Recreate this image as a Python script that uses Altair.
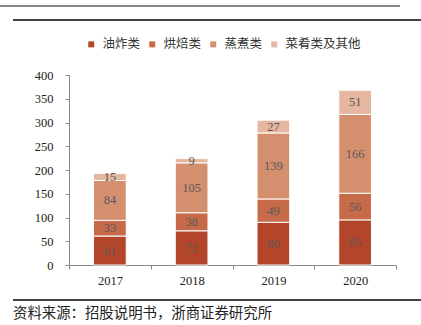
import altair as alt
import pandas as pd

years = ["2017", "2018", "2019", "2020"]
categories = ["油炸类", "烘焙类", "蒸煮类", "菜肴类及其他"]
fried = [61, 72, 90, 95]
baked = [33, 38, 49, 56]
steamed = [84, 105, 139, 166]
dishes = [15, 9, 27, 51]
y_ticks = [0, 50, 100, 150, 200, 250, 300, 350, 400]
colors = ["#B3452A", "#C66A4A", "#D48F6F", "#E6B6A0"]
source_text = "资料来源：招股说明书，浙商证券研究所"

series = [fried, baked, steamed, dishes]
rows = []
for ci, (cat, vals) in enumerate(zip(categories, series)):
    for y, v in zip(years, vals):
        rows.append({"year": y, "cat": cat, "value": v, "order": ci})
df = pd.DataFrame(rows)

W, H = 327, 190
serif = "Liberation Serif"
cjk = "Noto Sans CJK SC"

xaxis = alt.Axis(labelAngle=0, labelFont=serif, labelFontSize=12.5,
                 labelColor="#222", domainColor="#888", tickColor="#888",
                 tickSize=4, tickBand="extent", labelPadding=5, grid=False)
yaxis = alt.Axis(values=y_ticks, labelFont=serif, labelFontSize=12.5,
                 labelColor="#222", domainColor="#888", tickColor="#888",
                 tickSize=4, labelPadding=12, grid=False, labelOverlap=False)
yscale = alt.Scale(domain=[0, 400], nice=False)

base = alt.Chart(df)

bars = base.mark_bar(width={"band": 0.4}, stroke="white", strokeWidth=1).encode(
    x=alt.X("year:N", title=None, scale=alt.Scale(paddingInner=0, paddingOuter=0),
            axis=xaxis),
    y=alt.Y("value:Q", title=None, stack="zero", scale=yscale, axis=yaxis),
    color=alt.Color("cat:N", sort=categories,
                    scale=alt.Scale(domain=categories, range=colors),
                    legend=alt.Legend(title=None, orient="none", direction="horizontal",
                                      legendX=16, legendY=-37,
                                      symbolType="square", symbolSize=36,
                                      symbolStrokeWidth=0, labelFont=cjk,
                                      labelFontSize=12.5, labelColor="#333",
                                      columnPadding=5, labelOffset=5)),
    order=alt.Order("order:Q"),
)

labels = base.transform_stack(
    stack="value", groupby=["year"], sort=[alt.SortField("order")], as_=["v0", "v1"]
).transform_calculate(
    mid="(datum.v0 + datum.v1) / 2"
).mark_text(font=serif, fontSize=12.5, color="#595959", baseline="middle").encode(
    x=alt.X("year:N", title=None, axis=xaxis),
    y=alt.Y("mid:Q", title=None, scale=yscale, axis=yaxis),
    text=alt.Text("value:Q"),
)

top_line = alt.Chart(alt.Data(values=[{"k": "top"}])).mark_rule(
    color="#111", strokeWidth=1).encode(
    x=alt.value(-69), x2=alt.value(331), y=alt.value(-69))
head_line = alt.Chart(alt.Data(values=[{"k": "head"}])).mark_rule(
    color="#444", strokeWidth=2).encode(
    x=alt.value(-56), x2=alt.value(352), y=alt.value(-55))
foot_line = alt.Chart(alt.Data(values=[{"k": "foot"}])).mark_rule(
    color="#444", strokeWidth=2).encode(
    x=alt.value(-56), x2=alt.value(352), y=alt.value(225))
foot_text = alt.Chart(alt.Data(values=[{"k": "src"}])).mark_text(
    font=cjk, fontSize=14.4, color="#222", align="left", baseline="middle").encode(
    x=alt.value(-56), y=alt.value(239), text=alt.value(source_text))

chart = alt.layer(bars, labels, top_line, head_line, foot_line, foot_text).properties(
    width=W, height=H,
    padding={"left": 69, "top": 75, "right": 25, "bottom": 60},
    autosize=alt.AutoSizeParams(type="none"),
    background="white",
).configure_view(stroke=None)

chart.save("out.html", embed_options={"renderer": "svg", "actions": False})
